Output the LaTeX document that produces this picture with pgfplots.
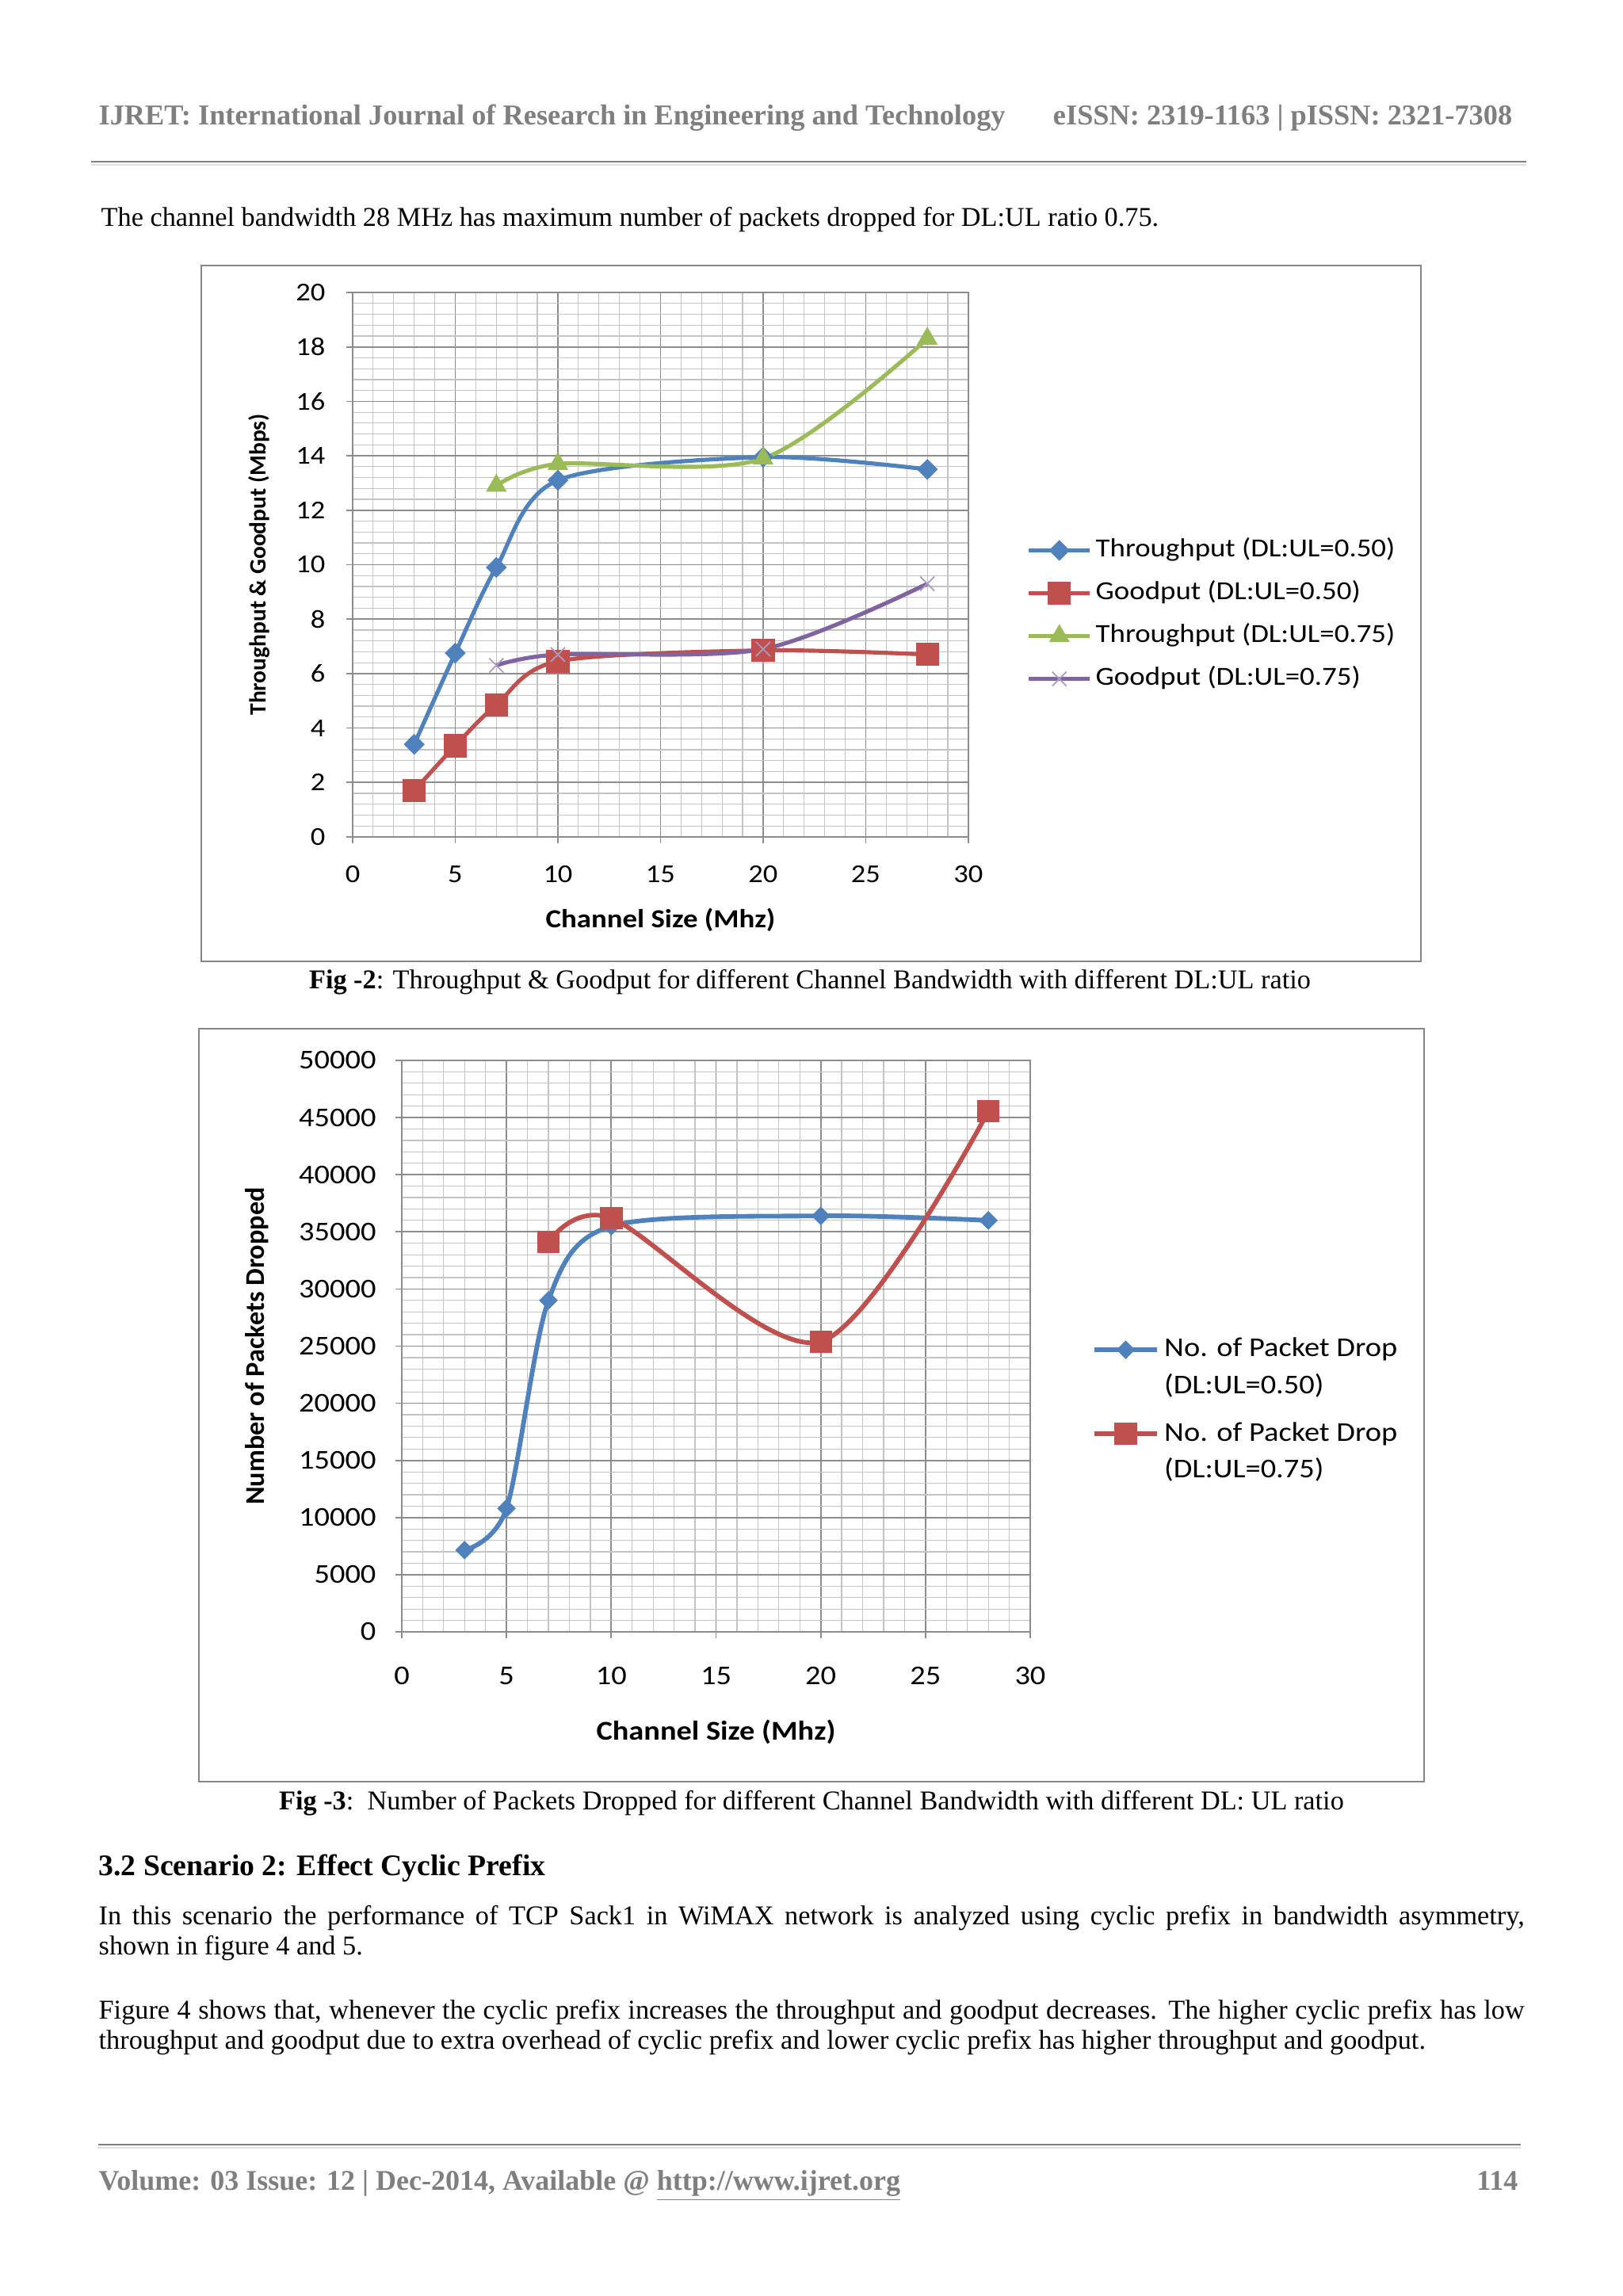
\documentclass[border=0pt]{standalone}
\usepackage{pgfplots}
\pgfplotsset{compat=1.18}
\usepackage{fontspec}
\setmainfont{Liberation Serif}
\newfontfamily\cfont{Carlito}[FakeStretch=1.12]
\newfontfamily\cfontn{Carlito}

\definecolor{xblue}{HTML}{4F81BD}
\definecolor{xred}{HTML}{C0504D}
\definecolor{xgreen}{HTML}{9BBB59}
\definecolor{xpurple}{HTML}{8064A2}
\definecolor{hgray}{HTML}{7F7F7F}
\definecolor{boxgray}{HTML}{858585}
\definecolor{gridmaj}{HTML}{8C8C8C}
\definecolor{gridmin}{HTML}{C4C4C4}

\pgfplotsset{
  excel/.style={
    scale only axis, anchor=south west,
    xmin=0, xmax=30, ymin=0,
    xtick distance=5,
    minor x tick num=4, minor y tick num=4,
    grid=both,
    major grid style={draw=gridmaj, line width=0.5pt},
    minor grid style={draw=gridmin, line width=0.35pt},
    axis line style={draw=gridmaj, line width=0.6pt},
    tick align=outside, tick pos=left,
    major tick length=0.8mm, minor tick length=0pt,
    tick style={draw=gridmaj, line width=0.5pt},
    /pgf/number format/assume math mode=true,
    /pgf/number format/1000 sep={},
    scaled y ticks=false,
  },
}

\begin{document}
\begin{tikzpicture}
\path[use as bounding box] (0,0) rectangle (210mm,297.06mm);
\fill[white] (0,0) rectangle (210mm,297.06mm);

\begin{scope}[x=0.10254mm, y=0.10254mm]
% header
\node[anchor=base west, inner sep=0, text=hgray] at (124,2740)
  {\fontsize{10.6}{12}\selectfont\bfseries IJRET: International Journal of Research in Engineering and Technology};
\node[anchor=base east, inner sep=0, text=hgray] at (1909,2740)
  {\fontsize{10.6}{12}\selectfont\bfseries eISSN: 2319-1163 | pISSN: 2321-7308};
\draw[hgray, line width=0.28mm] (115,2693) -- (1926,2693);
\draw[gray!25, line width=0.2mm] (115,2689) -- (1926,2689);

\node[anchor=base west, inner sep=0] at (127,2612)
  {The channel bandwidth 28 MHz has maximum number of packets dropped for DL:UL ratio 0.75.};

% figure frames
\draw[boxgray, line width=0.28mm] (254,1684) rectangle (1793,2562);
\node[anchor=base, inner sep=0] at (1022,1650)
  {\textbf{Fig -2}: Throughput \& Goodput for different Channel Bandwidth with different DL:UL ratio};
\draw[boxgray, line width=0.28mm] (251,649) rectangle (1797,1599);
\node[anchor=base, inner sep=0] at (1024,614)
  {\textbf{Fig -3}:\ \ Number of Packets Dropped for different Channel Bandwidth with different DL: UL ratio};

% text below
\node[anchor=base west, inner sep=0] at (124,531)
  {\fontsize{11}{13}\selectfont\bfseries 3.2 Scenario 2: Effect Cyclic Prefix};
\node[anchor=base west, inner sep=0] at (124,469)
  {\makebox[184.47mm][s]{In this scenario the performance of TCP Sack1 in WiMAX network is analyzed using cyclic prefix in bandwidth asymmetry,}};
\node[anchor=base west, inner sep=0] at (124,431) {shown in figure 4 and 5.};
\node[anchor=base west, inner sep=0] at (124,350)
  {\makebox[184.47mm][s]{Figure 4 shows that, whenever the cyclic prefix increases the throughput and goodput decreases. The higher cyclic prefix has low}};
\node[anchor=base west, inner sep=0] at (124,312)
  {throughput and goodput due to extra overhead of cyclic prefix and lower cyclic prefix has higher throughput and goodput.};

% footer
\draw[hgray, line width=0.28mm] (124,191) -- (1919,191);
\draw[gray!25, line width=0.2mm] (124,187) -- (1919,187);
\node[anchor=base west, inner sep=0, text=hgray] at (124,134)
  {\fontsize{10.5}{12}\selectfont\bfseries Volume: 03 Issue: 12 | Dec-2014, Available @ \underline{http://www.ijret.org}};
\node[anchor=base east, inner sep=0, text=hgray] at (1916,134)
  {\fontsize{10.5}{12}\selectfont\bfseries 114};
\end{scope}

% ---- Fig 2 ----
\begin{axis}[excel,
  at={(45.63mm,188.78mm)},
  width=79.67mm, height=70.44mm,
  ymax=20, ytick distance=2,
  ticklabel style={font=\fontsize{9.5}{11}\cfont},
  xticklabel style={yshift=-1.7mm},
  yticklabel style={xshift=-1.5mm},
  xlabel={\bfseries Channel Size (Mhz)},
  xlabel style={at={(axis description cs:0.5,-0.153)}, anchor=center, font=\fontsize{9.6}{11}\cfont},
  ylabel={\bfseries Throughput \& Goodput (Mbps)},
  ylabel style={at={(axis description cs:-0.152,0.5)}, anchor=center, font=\fontsize{8.6}{10}\cfontn},
  legend cell align=left,
  legend style={draw=none, fill=none, inner sep=0pt, anchor=north west,
    at={(1.094,0.552)}, font=\fontsize{9.6}{11}\cfont, row sep=2.04mm,
    nodes={inner sep=0pt, text height=2.6mm, text depth=0.9mm},
    /tikz/every odd column/.append style={column sep=0.5mm}},
  legend image code/.code={\draw[#1, mark repeat=2, mark phase=2] plot coordinates {(0mm,0mm) (3.95mm,0mm) (7.9mm,0mm)};},
]
\addplot[xblue, line width=1.5pt, smooth, mark=square*, mark size=0.9mm,
  mark options={rotate=45, solid, fill=xblue, draw=xblue, line width=0.3pt}]
  coordinates {(3,3.4) (5,6.75) (7,9.9) (10,13.1) (20,13.95) (28,13.5)};
\addlegendentry{Throughput (DL:UL=0.50)}
\addplot[xred, line width=1.5pt, smooth, mark=square*, mark size=1.45mm,
  mark options={solid, fill=xred, draw=xred, line width=0.3pt}]
  coordinates {(3,1.7) (5,3.35) (7,4.85) (10,6.45) (20,6.85) (28,6.7)};
\addlegendentry{Goodput (DL:UL=0.50)}
\addplot[xgreen, line width=1.5pt, smooth, mark=triangle*, mark size=1.45mm,
  mark options={solid, fill=xgreen, draw=xgreen, line width=0.3pt}]
  coordinates {(7,12.9) (10,13.7) (20,13.9) (28,18.3)};
\addlegendentry{Throughput (DL:UL=0.75)}
\addplot[xpurple, line width=1.5pt, smooth, mark=x, mark size=1.3mm,
  mark options={solid, draw=xpurple!65, line width=0.5pt}]
  coordinates {(7,6.3) (10,6.7) (20,6.9) (28,9.3)};
\addlegendentry{Goodput (DL:UL=0.75)}
\end{axis}

% ---- Fig 3 ----
\begin{axis}[excel,
  at={(51.99mm,85.93mm)},
  width=81.31mm, height=73.93mm,
  ymax=50000, ytick distance=5000,
  ticklabel style={font=\fontsize{10}{12}\cfont},
  xticklabel style={yshift=-2.5mm},
  yticklabel style={xshift=-1.3mm},
  xlabel={\bfseries Channel Size (Mhz)},
  xlabel style={at={(axis description cs:0.5,-0.175)}, anchor=center, font=\fontsize{10}{12}\cfont},
  ylabel={\bfseries Number of Packets Dropped},
  ylabel style={at={(axis description cs:-0.231,0.5)}, anchor=center, font=\fontsize{10}{12}\cfontn},
  legend style={draw=none, fill=none, inner sep=0pt, anchor=north west,
    at={(1.097,0.528)}, font=\fontsize{10}{12}\cfont, row sep=1.27mm,
    cells={anchor=base west},
    nodes={inner sep=0pt, text height=3.37mm, text depth=6.25mm},
    /tikz/every odd column/.append style={column sep=0.6mm}},
  legend image code/.code={\draw[#1, yshift=0.9mm, mark repeat=2, mark phase=2] plot coordinates {(0mm,0mm) (4.1mm,0mm) (8.2mm,0mm)};},
]
\addplot[xblue, line width=1.7pt, smooth, mark=square*, mark size=0.8mm,
  mark options={rotate=45, solid, fill=xblue, draw=xblue, line width=0.3pt}]
  coordinates {(3,7150) (5,10800) (7,29000) (10,35500) (20,36400) (28,36000)};
\addlegendentry{\def\arraystretch{1.14}\begin{tabular}[t]{@{}l@{}}No. of Packet Drop\\(DL:UL=0.50)\end{tabular}}
\addplot[xred, line width=1.7pt, smooth, mark=square*, mark size=1.4mm,
  mark options={solid, fill=xred, draw=xred, line width=0.3pt}]
  coordinates {(7,34100) (10,36200) (20,25400) (28,45550)};
\addlegendentry{\def\arraystretch{1.14}\begin{tabular}[t]{@{}l@{}}No. of Packet Drop\\(DL:UL=0.75)\end{tabular}}
\end{axis}
\end{tikzpicture}
\end{document}
